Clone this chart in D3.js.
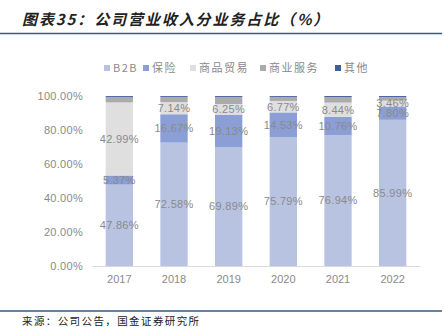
<!DOCTYPE html>
<html><head><meta charset="utf-8">
<script src="https://cdn.jsdelivr.net/npm/d3@7"></script>
<style>body{margin:0;background:#fff;}svg{display:block;}</style>
</head><body>
<script>
const years = ["2017","2018","2019","2020","2021","2022"];
const seriesNames = ["B2B","保险","商品贸易","商业服务","其他"];
const b2b      = [47.86, 72.58, 69.89, 75.79, 76.94, 85.99];
const insure   = [5.37, 16.67, 19.13, 14.53, 10.76, 7.80];
const trade    = [42.99, 7.14, 6.25, 6.77, 8.44, 3.46];
const service  = [3.25, 3.10, 4.20, 2.40, 3.30, 2.20];
const other    = [0.53, 0.51, 0.53, 0.51, 0.56, 0.55];
const yTicks   = [0, 20, 40, 60, 80, 100];
const colors   = ["#b8c3e1", "#8b9ed6", "#dfdfdf", "#ababab", "#3f5d9f"];
const labelled = [true, true, true, false, false];

const W = 445, H = 327;
const svg = d3.select("body").append("svg").attr("width", W).attr("height", H);
const font = "'Liberation Sans', Arial, sans-serif";

// title
svg.append("text").attr("x", 22).attr("y", 25)
  .attr("font-family", "'Noto Sans CJK SC', sans-serif").attr("font-size", 15)
  .attr("font-weight", "bold").attr("font-style", "italic").attr("letter-spacing", 1.9)
  .attr("fill", "#222").text("图表35：公司营业收入分业务占比（%）");
svg.append("line").attr("x1", 0).attr("x2", 442).attr("y1", 33.5).attr("y2", 33.5)
  .attr("stroke", "#2d5b8a").attr("stroke-width", 1.3);

// footer
svg.append("line").attr("x1", 0).attr("x2", 442).attr("y1", 311).attr("y2", 311)
  .attr("stroke", "#2d5b8a").attr("stroke-width", 1.3);
svg.append("text").attr("x", 22).attr("y", 325)
  .attr("font-family", "'Noto Sans CJK SC', sans-serif").attr("font-size", 10.5)
  .attr("letter-spacing", 1.4)
  .attr("fill", "#222").text("来源：公司公告，国金证券研究所");

const x = d3.scaleBand().domain(years).range([92, 420]).paddingInner(0.5).paddingOuter(0.25);
const y = d3.scaleLinear().domain([0, 100]).range([266, 96]);

const data = years.map((yr, i) => ({year: yr, s0: b2b[i], s1: insure[i], s2: trade[i], s3: service[i], s4: other[i]}));
const keys = ["s0","s1","s2","s3","s4"];
const stacked = d3.stack().keys(keys)(data);

// y axis labels
const yAxis = d3.axisLeft(y).tickValues(yTicks).tickSize(0).tickPadding(9)
  .tickFormat(d => d3.format(".2f")(d) + "%");
const ya = svg.append("g").attr("transform", "translate(92,0)").call(yAxis);
ya.select(".domain").remove();
ya.selectAll("text").attr("font-family", font).attr("font-size", 11).attr("fill", "#8a8a8a")
  .attr("letter-spacing", 0.3);

// bars
stacked.forEach((layer, li) => {
  svg.append("g").selectAll("rect").data(layer).join("rect")
    .attr("x", d => x(d.data.year))
    .attr("width", x.bandwidth())
    .attr("y", d => y(d[1]))
    .attr("height", d => y(d[0]) - y(d[1]))
    .attr("fill", colors[li]);
});

// labels
stacked.forEach((layer, li) => {
  if (!labelled[li]) return;
  svg.append("g").selectAll("text").data(layer).join("text")
    .attr("x", d => x(d.data.year) + x.bandwidth() / 2)
    .attr("y", d => y((d[0] + d[1]) / 2))
    .attr("dy", "0.35em")
    .attr("text-anchor", "middle")
    .attr("font-family", font).attr("font-size", 11).attr("fill", "#8a8a8a")
    .attr("letter-spacing", 0.3)
    .text(d => d3.format(".2f")(d[1] - d[0]) + "%");
});

// x axis
const xAxis = d3.axisBottom(x).tickSize(0).tickPadding(9);
const xa = svg.append("g").attr("transform", "translate(0,266)").call(xAxis);
xa.select(".domain").attr("stroke", "#d9d9d9").attr("stroke-width", 1.2);
xa.selectAll("text").attr("font-family", font).attr("font-size", 11).attr("fill", "#8a8a8a");

// legend
const legX = [104, 143, 190, 260, 335];
seriesNames.forEach((n, i) => {
  const g = svg.append("g").attr("transform", `translate(${legX[i]},68)`);
  g.append("rect").attr("x", 0).attr("y", -3).attr("width", 6).attr("height", 6).attr("fill", colors[i]);
  g.append("text").attr("x", 9).attr("y", 0).attr("dy", "0.35em")
    .attr("font-family", "'Noto Sans CJK SC', " + font).attr("font-size", 11)
    .attr("letter-spacing", 1.5).attr("fill", "#8a8a8a").text(n);
});
</script>
</body></html>
